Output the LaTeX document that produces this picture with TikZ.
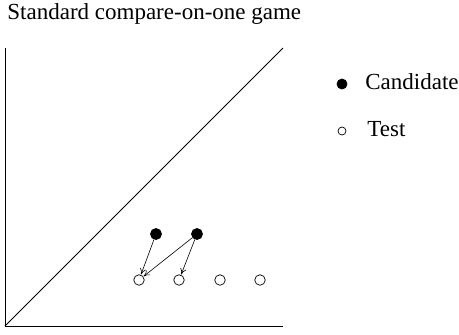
\documentclass[tikz,border=0pt]{standalone}
\usepackage{fontspec}
\setmainfont{Liberation Serif}
\usetikzlibrary{arrows.meta}
\begin{document}
\begin{tikzpicture}[x=1pt,y=-1pt,line width=0.8pt,
  cand/.style={circle,fill=black,draw=black,inner sep=0pt,minimum size=11pt},
  testpt/.style={circle,draw=black,fill=white,inner sep=0pt,minimum size=10.5pt,line width=0.7pt},
  legcand/.style={circle,fill=black,draw=black,inner sep=0pt,minimum size=10pt},
  legtest/.style={circle,draw=black,fill=white,inner sep=0pt,minimum size=8pt,line width=0.7pt},
  lbl/.style={anchor=base west,inner sep=0pt,font=\fontsize{23}{27}\selectfont},
  cmp/.style={-{To[length=6pt,width=6pt]},line width=0.6pt,shorten >=0.3pt}]
\useasboundingbox (0,0) rectangle (459,335);

% title
\node[lbl] (title) at (7,19) {Standard compare-on-one game};

% axes and diagonal
\coordinate (ytop) at (5,48);
\coordinate (orig) at (5,326);
\coordinate (xend) at (283,326);
\coordinate (dtop) at (283,48);
\draw (ytop) -- (orig) -- (xend);
\draw (orig) -- (dtop);

% candidates and tests
\node[cand] (c1) at (156,234) {};
\node[cand] (c2) at (197,234) {};
\node[testpt] (t1) at (139,280) {};
\node[testpt] (t2) at (179,280) {};
\node[testpt] (t3) at (220,280) {};
\node[testpt] (t4) at (260,280) {};

% comparisons
\draw[cmp] (c1) -- (t1);
\draw[cmp] (c2) -- (t1);
\draw[cmp] (c2) -- (t2);

% legend
\node[legcand] (lc) at (342,84) {};
\node[lbl] (lctext) at (365,89) {Candidate};
\node[legtest] (lt) at (342,131) {};
\node[lbl] (lttext) at (367,136) {Test};
\end{tikzpicture}
\end{document}
